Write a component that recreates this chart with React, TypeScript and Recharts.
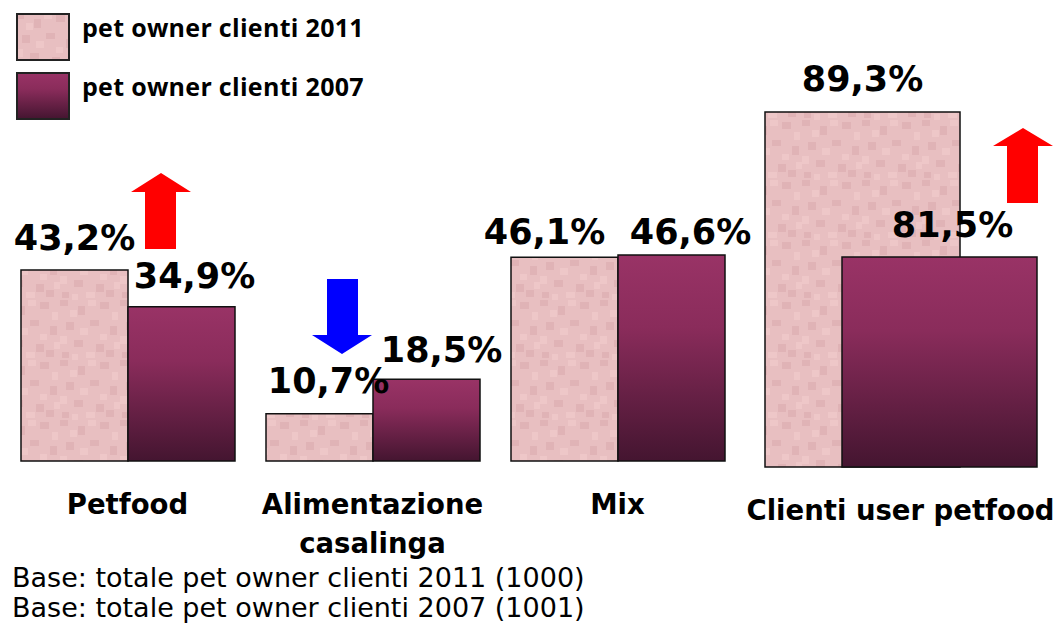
import { BarChart, Bar, XAxis, YAxis, LabelList, Legend } from 'recharts';

// Main groups (same scale)
const categories = ['Petfood', 'Alimentazione casalinga', 'Mix'];
const values2011 = [43.2, 10.7, 46.1];
const values2007 = [34.9, 18.5, 46.6];

// Last group is drawn on its own in the original slide
const userCategory = ['Clienti user petfood'];
const user2011 = [89.3];
const user2007 = [81.5];

const seriesNames = ['pet owner clienti 2011', 'pet owner clienti 2007'];
const baseNotes = [
  'Base: totale pet owner clienti 2011 (1000)',
  'Base: totale pet owner clienti 2007 (1001)',
];

const mainData = categories.map((name, i) => ({ name, y2011: values2011[i], y2007: values2007[i] }));
const userData = userCategory.map((name, i) => ({ name, y2011: user2011[i], y2007: user2007[i] }));

// small nudges so the value labels sit where the slide put them
const nudge2011 = [{ dx: 0, gap: 20 }, { dx: 9, gap: 21 }, { dx: -20, gap: 13 }];
const nudge2007 = [{ dx: 13, gap: 19 }, { dx: 15, gap: 17 }, { dx: 19, gap: 11 }];
const nudgeUser2011 = [{ dx: 0, gap: 21 }];
const nudgeUser2007 = [{ dx: 13, gap: 20 }];

const BOLD = '"DejaVu Sans", Verdana, sans-serif';
const fmt = (v: number) => v.toFixed(1).replace('.', ',') + '%';

const makeLabel = (nudges: { dx: number; gap: number }[]) => (props: any) => {
  const { x, y, width, value, index } = props;
  const n = nudges[index] || { dx: 0, gap: 20 };
  return (
    <text
      x={Number(x) + Number(width) / 2 + n.dx}
      y={Number(y) - n.gap}
      textAnchor="middle"
      fontFamily={BOLD}
      fontWeight="bold"
      fontSize={35}
      fill="#000"
    >
      {fmt(Number(value))}
    </text>
  );
};

const CategoryTick = (props: any) => {
  const { x, y, payload } = props;
  const words: string[] = payload.value === 'Alimentazione casalinga' ? ['Alimentazione', 'casalinga'] : [payload.value];
  return (
    <g>
      {words.map((w, i) => (
        <text
          key={w}
          x={x}
          y={y + 53 + i * 39}
          textAnchor="middle"
          fontFamily={BOLD}
          fontWeight="bold"
          fontSize={27.5}
          fill="#000"
        >
          {w}
        </text>
      ))}
    </g>
  );
};

const LegendBox = (props: any) => {
  const items = [...(props.payload || [])].sort(
    (a: any, b: any) => seriesNames.indexOf(a.value) - seriesNames.indexOf(b.value),
  );
  return (
    <div style={{ position: 'relative', width: 400, height: 125 }}>
      {items.map((it: any, i: number) => (
        <div key={it.value} style={{ position: 'absolute', left: 16, top: 13 + i * 59, height: 48 }}>
          <svg width={54} height={48} style={{ position: 'absolute', left: 0, top: 0 }}>
            <rect x={1} y={1} width={52} height={46} fill={it.color} stroke="#222" strokeWidth={2} />
          </svg>
          <span
            style={{
              position: 'absolute',
              left: 66,
              top: 2,
              whiteSpace: 'nowrap',
              fontFamily: '"Open Sans", sans-serif',
              fontWeight: 700,
              fontSize: 25,
              lineHeight: '25px',
              letterSpacing: 0.3,
              color: '#000',
            }}
          >
            {it.value}
          </span>
        </div>
      ))}
    </div>
  );
};

// mottled texture cells [x, y, w, h]
const texDark = [
  [0, 0, 8, 6], [18, 6, 7, 9], [40, 2, 9, 7], [6, 22, 8, 8], [30, 20, 9, 6],
  [50, 26, 7, 9], [14, 40, 9, 7], [36, 44, 8, 8], [2, 52, 7, 6], [46, 50, 8, 7],
];
const texLight = [
  [10, 10, 7, 7], [28, 0, 8, 6], [52, 12, 6, 8], [20, 28, 8, 7], [40, 34, 7, 6],
  [0, 36, 7, 8], [26, 52, 9, 6], [54, 42, 6, 7], [12, 54, 6, 6],
];

export default function App() {
  return (
    <div style={{ position: 'absolute', left: 0, top: 0, width: 1059, height: 623, background: '#fff', overflow: 'hidden' }}>
      <svg width={0} height={0} style={{ position: 'absolute' }}>
        <defs>
          <pattern id="pinkTex" width={60} height={60} patternUnits="userSpaceOnUse">
            <rect width={60} height={60} fill="#e8bfc1" />
            {texDark.map(([px, py, w, h]) => (
              <rect key={`d${px}-${py}`} x={px} y={py} width={w} height={h} fill="#e0b3b6" />
            ))}
            {texLight.map(([px, py, w, h]) => (
              <rect key={`l${px}-${py}`} x={px} y={py} width={w} height={h} fill="#eec7c8" />
            ))}
          </pattern>
          <linearGradient id="plumGrad" x1="0" y1="0" x2="0" y2="1">
            <stop offset="0%" stopColor="#993366" />
            <stop offset="35%" stopColor="#8a2c5b" />
            <stop offset="100%" stopColor="#441530" />
          </linearGradient>
        </defs>
      </svg>

      <div style={{ position: 'absolute', left: 0, top: 0 }}>
        <BarChart
          width={760}
          height={561}
          data={mainData}
          margin={{ top: 19, right: 20, bottom: 10, left: 5 }}
          barSize={107}
          barGap={0}
          style={{ overflow: 'visible' }}
        >
          <XAxis
            dataKey="name"
            axisLine={false}
            tickLine={false}
            tickSize={0}
            tickMargin={0}
            height={90}
            interval={0}
            tick={<CategoryTick />}
          />
          <YAxis hide domain={[0, 100]} />
          <Legend
            layout="horizontal"
            verticalAlign="middle"
            align="center"
            content={<LegendBox />}
            wrapperStyle={{ position: 'absolute', left: 0, top: 0, width: 400, height: 125 }}
          />
          <Bar dataKey="y2011" name={seriesNames[0]} fill="url(#pinkTex)" stroke="#111" strokeWidth={1.5} isAnimationActive={false}>
            <LabelList dataKey="y2011" content={makeLabel(nudge2011)} />
          </Bar>
          <Bar dataKey="y2007" name={seriesNames[1]} fill="url(#plumGrad)" stroke="#111" strokeWidth={1.5} isAnimationActive={false}>
            <LabelList dataKey="y2007" content={makeLabel(nudge2007)} />
          </Bar>
        </BarChart>
      </div>

      <div style={{ position: 'absolute', left: 742, top: 0 }}>
        <BarChart
          width={317}
          height={567}
          data={userData}
          margin={{ top: 69.5, right: 0, bottom: 10, left: 0 }}
          barSize={195}
          barGap={-118}
        >
          <XAxis
            dataKey="name"
            axisLine={false}
            tickLine={false}
            tickSize={0}
            tickMargin={0}
            height={90}
            interval={0}
            tick={<CategoryTick />}
          />
          <YAxis yAxisId="a" hide domain={[0, 100]} />
          <YAxis yAxisId="b" hide domain={[0, 154.3]} />
          <Bar yAxisId="a" dataKey="y2011" name={seriesNames[0]} fill="url(#pinkTex)" stroke="#111" strokeWidth={1.5} isAnimationActive={false}>
            <LabelList dataKey="y2011" content={makeLabel(nudgeUser2011)} />
          </Bar>
          <Bar yAxisId="b" dataKey="y2007" name={seriesNames[1]} fill="url(#plumGrad)" stroke="#111" strokeWidth={1.5} isAnimationActive={false}>
            <LabelList dataKey="y2007" content={makeLabel(nudgeUser2007)} />
          </Bar>
        </BarChart>
      </div>

      {/* trend arrows and base notes */}
      <svg width={1059} height={623} style={{ position: 'absolute', left: 0, top: 0, pointerEvents: 'none' }}>
        <polygon points="161,173 191,192 176,192 176,249 145,249 145,192 131,192" fill="#ff0000" />
        <polygon points="327,279 358,279 358,335 372,335 342,354 312,335 327,335" fill="#0000ff" />
        <polygon points="1023,128 1053,146 1038,146 1038,203 1007,203 1007,146 993,146" fill="#ff0000" />
        {baseNotes.map((t, i) => (
          <text key={t} x={12} y={587 + i * 30} fontFamily={BOLD} fontSize={27} fill="#000">
            {t}
          </text>
        ))}
      </svg>
    </div>
  );
}
